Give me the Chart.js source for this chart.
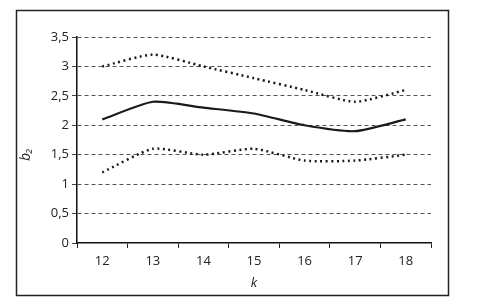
<!DOCTYPE html>
<html>
<head>
<meta charset="utf-8">
<script src="https://cdn.jsdelivr.net/npm/chart.js@4"></script>
<style>
  html, body { margin: 0; padding: 0; background: #fff; }
  #wrap { width: 477px; height: 305px; }
</style>
</head>
<body>
<div id="wrap"><canvas id="b2Chart"></canvas></div>
<script>
var kValues = ['12', '13', '14', '15', '16', '17', '18'];
var b2Mean = [2.1, 2.4, 2.3, 2.2, 2.0, 1.9, 2.1];
var b2Upper = [3.0, 3.2, 3.0, 2.8, 2.6, 2.4, 2.6];
var b2Lower = [1.2, 1.6, 1.5, 1.6, 1.4, 1.4, 1.5];

// outer frame round the whole figure
var framePlugin = {
  id: 'frame',
  beforeDraw: function (chart) {
    var c = chart.ctx;
    c.save();
    c.fillStyle = '#fff';
    c.fillRect(0, 0, chart.width, chart.height);
    c.strokeStyle = '#222';
    c.lineWidth = 1.5;
    c.strokeRect(16.5, 10.5, 432, 285);
    c.restore();
  }
};

var lineStyle = { borderColor: '#1a1a1a', pointRadius: 0, fill: false, tension: 0.2 };

var ctx = document.getElementById('b2Chart');
var b2Chart = new Chart(ctx, {
  type: 'line',
  data: {
    labels: kValues,
    datasets: [
      Object.assign({ data: b2Upper, borderWidth: 2.5, borderDash: [2, 3.5] }, lineStyle),
      Object.assign({ data: b2Mean, borderWidth: 2.2 }, lineStyle),
      Object.assign({ data: b2Lower, borderWidth: 2.5, borderDash: [2, 3.5] }, lineStyle)
    ]
  },
  options: {
    responsive: true,
    maintainAspectRatio: false,
    animation: false,
    events: [],
    layout: { padding: { left: 0, right: 46, top: 37, bottom: 0 } },
    plugins: { legend: { display: false }, tooltip: { enabled: false } },
    scales: {
      x: {
        offset: true,
        afterFit: function (s) { s.height = 62; },
        grid: { offset: true, drawOnChartArea: false, drawTicks: true, tickLength: 5, color: '#222', lineWidth: 1 },
        border: { display: true, color: '#111', width: 1.5 },
        ticks: { color: '#222', padding: 5, font: { family: 'Open Sans', size: 13 } },
        title: { display: true, text: 'k', color: '#222', padding: { top: 0, bottom: 14 }, font: { family: 'Open Sans', size: 13, style: 'italic' } }
      },
      y: {
        min: 0,
        max: 3.5,
        afterFit: function (s) { s.width = 77; },
        ticks: {
          stepSize: 0.5,
          color: '#222',
          padding: 3,
          font: { family: 'Open Sans', size: 13 },
          callback: function (v) { return String(v).replace('.', ','); }
        },
        grid: {
          color: function (c) { return c.tick && c.tick.value === 0 ? 'rgba(0,0,0,0)' : '#555'; },
          tickColor: '#444',
          lineWidth: 1,
          tickLength: 5,
          drawTicks: true
        },
        border: { display: true, color: '#111', width: 1.5, dash: [4, 3] },
        title: {
          display: true,
          text: 'b₂\u00a0\u00a0\u00a0\u00a0\u00a0\u00a0\u00a0\u00a0',
          color: '#222',
          padding: { top: 18, bottom: 0 },
          font: { family: 'Open Sans', size: 14, style: 'italic' }
        }
      }
    }
  },
  plugins: [framePlugin]
});
</script>
</body>
</html>
